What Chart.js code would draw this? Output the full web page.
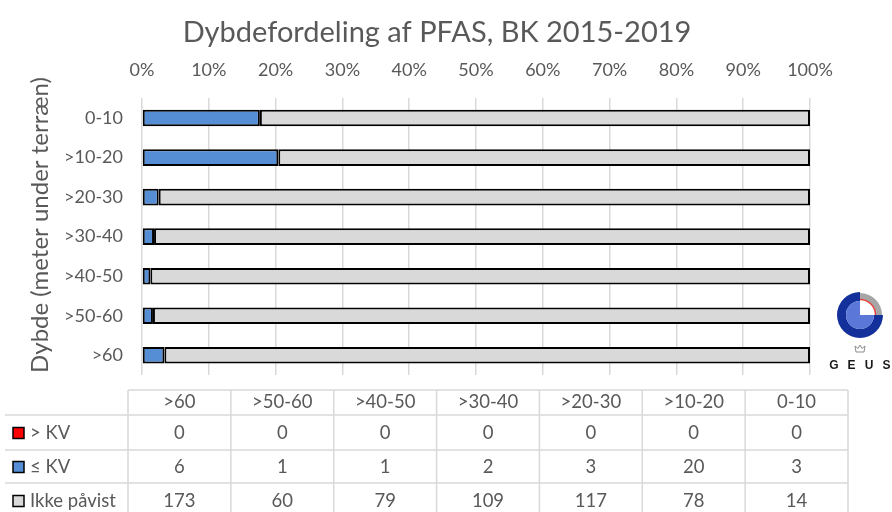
<!DOCTYPE html>
<html>
<head>
<meta charset="utf-8">
<script src="https://cdn.jsdelivr.net/npm/chart.js@4"></script>
<style>
  html, body { margin: 0; padding: 0; background: #fff; }
  #wrap { width: 892px; height: 512px; }
</style>
</head>
<body>
<div id="wrap"><canvas id="chart" width="892" height="512"></canvas></div>
<script>
// antal boringer pr. dybdeinterval (BK 2015-2019)
const depths   = ["0-10", ">10-20", ">20-30", ">30-40", ">40-50", ">50-60", ">60"];
const overKV   = [0, 0, 0, 0, 0, 0, 0];
const underKV  = [3, 20, 3, 2, 1, 1, 6];
const notFound = [14, 78, 117, 109, 79, 60, 173];

const seriesNames  = ["> KV", "≤ KV", "Ikke påvist"];
const seriesColors = ["#ff0000", "#558ed5", "#d9d9d9"];

const FONT = "Lato, 'Open Sans', sans-serif";
const TEXT = "#595959";

const totals = depths.map((_, i) => overKV[i] + underKV[i] + notFound[i]);
const share = arr => arr.map((v, i) => v / totals[i] * 100);

const seriesValues = [overKV, underKV, notFound];

// aksetitel til venstre, lodret
const yTitlePlugin = {
    id: "yTitle",
    afterDraw(chart) {
        const ctx = chart.ctx;
        ctx.save();
        ctx.translate(40, 225);
        ctx.rotate(-Math.PI / 2);
        ctx.fillStyle = TEXT;
        ctx.font = "24px " + FONT;
        ctx.textAlign = "center";
        ctx.textBaseline = "middle";
        ctx.fillText("Dybde (meter under terræn)", 0, 0);
        ctx.restore();
    }
};

// tabel under grafen (kolonner i omvendt rækkefølge, som i Excel)
const tablePlugin = {
    id: "dataTable",
    afterDraw(chart) {
        const ctx = chart.ctx;
        const left = 128, right = 848;
        const colW = (right - left) / depths.length;
        const rowY = [390, 415, 450, 483, 518];
        const order = depths.map((_, i) => depths.length - 1 - i);

        ctx.save();
        ctx.strokeStyle = "#d9d9d9";
        ctx.lineWidth = 1.5;
        ctx.beginPath();
        ctx.moveTo(left, rowY[0]);
        ctx.lineTo(right, rowY[0]);
        for (let r = 1; r < rowY.length - 1; r++) {
            ctx.moveTo(5, rowY[r]);
            ctx.lineTo(right, rowY[r]);
        }
        for (let c = 0; c <= depths.length; c++) {
            ctx.moveTo(left + c * colW, rowY[0]);
            ctx.lineTo(left + c * colW, 512);
        }
        ctx.stroke();

        ctx.fillStyle = TEXT;
        ctx.font = "18.5px " + FONT;
        ctx.textAlign = "center";
        ctx.textBaseline = "middle";
        order.forEach((idx, c) => {
            const cx = left + (c + 0.5) * colW;
            ctx.fillText(depths[idx], cx, (rowY[0] + rowY[1]) / 2);
            seriesValues.forEach((vals, s) => {
                ctx.fillText(String(vals[idx]), cx, (rowY[s + 1] + rowY[s + 2]) / 2 + 1);
            });
        });

        // forklaring i første kolonne
        ctx.textAlign = "left";
        seriesNames.forEach((name, s) => {
            const cy = (rowY[s + 1] + rowY[s + 2]) / 2 + 1;
            ctx.fillStyle = seriesColors[s];
            ctx.fillRect(13, cy - 6, 11, 11);
            ctx.strokeStyle = "#000";
            ctx.lineWidth = 1.5;
            ctx.strokeRect(13, cy - 6, 11, 11);
            ctx.fillStyle = TEXT;
            ctx.fillText(name, 30, cy);
        });
        ctx.restore();
    }
};

// GEUS-logo til højre for grafen
const logoPlugin = {
    id: "geusLogo",
    afterDraw(chart) {
        const ctx = chart.ctx;
        const cx = 860, cy = 315;
        ctx.save();
        ctx.fillStyle = "#13309b";
        ctx.beginPath();
        ctx.arc(cx, cy, 23, 0, 1.5 * Math.PI);
        ctx.arc(cx, cy, 14, 1.5 * Math.PI, 0, true);
        ctx.closePath();
        ctx.fill();

        ctx.fillStyle = "#5b78d8";
        ctx.beginPath();
        ctx.moveTo(cx, cy);
        ctx.arc(cx, cy, 14, 0, 1.5 * Math.PI);
        ctx.closePath();
        ctx.fill();

        ctx.fillStyle = "#a6a6a6";
        ctx.beginPath();
        ctx.arc(cx, cy, 22, 1.5 * Math.PI, 2 * Math.PI);
        ctx.arc(cx, cy, 16, 2 * Math.PI, 1.5 * Math.PI, true);
        ctx.closePath();
        ctx.fill();

        ctx.strokeStyle = "#e8413c";
        ctx.lineWidth = 1.5;
        ctx.beginPath();
        ctx.arc(cx, cy, 15.5, 1.5 * Math.PI, 2 * Math.PI);
        ctx.stroke();

        // lille krone
        ctx.strokeStyle = "#8c8c8c";
        ctx.lineWidth = 1;
        ctx.beginPath();
        ctx.moveTo(856, 352); ctx.lineTo(864, 352);
        ctx.lineTo(865, 346); ctx.lineTo(862, 348.5);
        ctx.lineTo(860, 345); ctx.lineTo(858, 348.5);
        ctx.lineTo(855, 346); ctx.closePath();
        ctx.stroke();

        ctx.fillStyle = "#1a1a1a";
        ctx.font = "bold 12px 'Liberation Sans', Arial, sans-serif";
        ctx.textAlign = "center";
        ctx.textBaseline = "middle";
        ["G", "E", "U", "S"].forEach((ch, i) => ctx.fillText(ch, 834 + i * 17.5, 366));
        ctx.restore();
    }
};

new Chart(document.getElementById("chart"), {
    type: "bar",
    data: {
        labels: depths,
        datasets: seriesValues.map((vals, s) => ({
            label: seriesNames[s],
            data: share(vals),
            backgroundColor: seriesColors[s],
            borderColor: "#000",
            borderWidth: ctx => (ctx.raw > 0 ? 2 : 0),
            borderSkipped: false,
            barPercentage: 0.42,
            categoryPercentage: 1,
        })),
    },
    options: {
        indexAxis: "y",
        responsive: false,
        animation: false,
        layout: { padding: { left: 0, right: 18, bottom: 137 } },
        plugins: {
            legend: { display: false },
            tooltip: { enabled: false },
            title: {
                display: true,
                text: "Dybdefordeling af PFAS, BK 2015-2019",
                color: TEXT,
                font: { family: FONT, size: 29, weight: "normal" },
                padding: { top: 15, bottom: 11 },
            },
        },
        scales: {
            x: {
                position: "top",
                stacked: true,
                min: 0,
                max: 100,
                afterFit: s => { s.height = 37.5; },
                ticks: {
                    stepSize: 10,
                    padding: 17,
                    color: TEXT,
                    font: { family: FONT, size: 18 },
                    callback: v => v + "%",
                },
                grid: { color: "#d9d9d9", lineWidth: 1.5, drawTicks: false },
                border: { display: false },
            },
            y: {
                stacked: true,
                afterFit: s => { s.width = 142; },
                ticks: {
                    padding: 19,
                    color: TEXT,
                    font: { family: FONT, size: 18 },
                },
                grid: { display: false, drawTicks: false },
                border: { display: false },
            },
            // tom akse til højre, giver plads til logoet
            logoSpace: {
                type: "linear",
                position: "right",
                afterFit: s => { s.width = 64; },
                ticks: { display: false },
                grid: { display: false, drawTicks: false },
                border: { display: false },
            },
        },
    },
    plugins: [yTitlePlugin, tablePlugin, logoPlugin],
});
</script>
</body>
</html>
